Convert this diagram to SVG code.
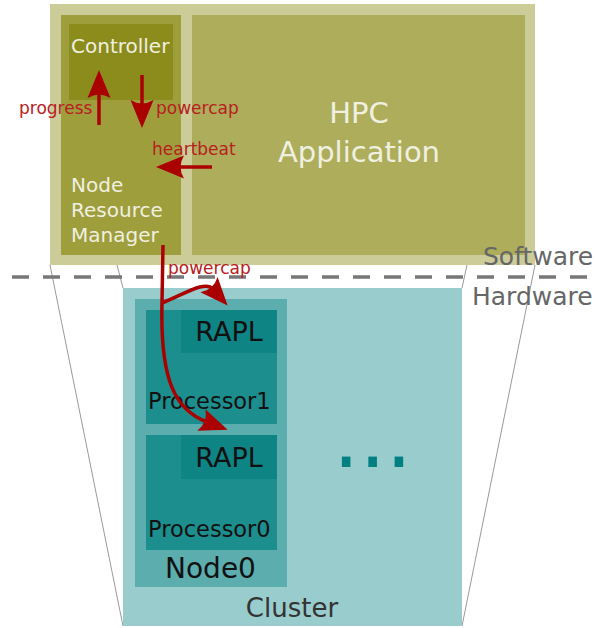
<svg xmlns="http://www.w3.org/2000/svg" width="597" height="628" viewBox="0 0 597 628">
<style>
text{font-family:"DejaVu Sans","Liberation Sans",sans-serif}
.sw{fill:#f0f0e0}
.red{fill:#b82020;font-size:17px}
.hw{fill:#111;font-size:27px}
.arr{fill:none;stroke:#aa0000;stroke-width:3.5}
.persp{stroke:#999;stroke-width:1;fill:none}
</style>
<defs>
<marker id="ah" markerUnits="userSpaceOnUse" markerWidth="30" markerHeight="24" refX="6" refY="12" orient="auto" overflow="visible">
<path d="M28,12 L0,0.5 Q7,12 0,23.5 Z" fill="#aa0000"/>
</marker>
</defs>
<rect width="597" height="628" fill="#fff"/>
<g id="perspective">
<path class="persp" d="M50,265 L123,626 M117,265 L123,288 M535,265 L462,626 M467,265 L462,288"/>
</g>
<g id="software">
<rect x="50" y="4" width="485" height="261" fill="#cccc99"/>
</g>
<g id="nrm">
<rect x="61" y="15" width="120" height="240" fill="#9e9e3d"/>
<text class="sw" font-size="20"><tspan x="71" y="192">Node</tspan><tspan x="71" y="217">Resource</tspan><tspan x="71" y="242">Manager</tspan></text>
</g>
<g id="controller">
<rect x="69" y="24" width="104" height="76" fill="#8c8c1c"/>
<text class="sw" x="71" y="53" font-size="20">Controller</text>
</g>
<g id="hpc">
<rect x="192" y="15" width="333" height="240" fill="#adad5c"/>
<text class="sw" font-size="29" text-anchor="middle"><tspan x="359" y="123">HPC</tspan><tspan x="359" y="162">Application</tspan></text>
</g>
<g id="divider">
<line x1="12" y1="277" x2="597" y2="277" stroke="#777" stroke-width="3.5" stroke-dasharray="17,14"/>
<text x="483" y="265" font-size="25" fill="#666">Software</text>
<text x="472" y="305" font-size="25" fill="#666">Hardware</text>
</g>
<g id="cluster">
<rect x="123" y="288" width="339" height="338" fill="#99cccc"/>
<text x="292" y="617" font-size="26" fill="#333" text-anchor="middle">Cluster</text>
<text x="333" y="467" font-size="83" fill="#008080">...</text>
</g>
<g id="node0">
<rect x="135" y="299" width="152" height="288" fill="#5cadad"/>
<text x="210.5" y="578" font-size="28" fill="#111" text-anchor="middle">Node0</text>
</g>
<g id="processor1">
<rect x="146" y="310" width="131" height="114" fill="#1c8e8e"/>
<text x="148" y="409" font-size="22.5" fill="#111">Processor1</text>
</g>
<g id="rapl1">
<rect x="181" y="310" width="96" height="43" fill="#0e8484"/>
<text class="hw" x="229" y="341" text-anchor="middle">RAPL</text>
</g>
<g id="processor0">
<rect x="146" y="435" width="131" height="115" fill="#1c8e8e"/>
<text x="148" y="537" font-size="22.5" fill="#111">Processor0</text>
</g>
<g id="rapl0">
<rect x="181" y="435" width="96" height="44" fill="#0e8484"/>
<text class="hw" x="229" y="467" text-anchor="middle">RAPL</text>
</g>
<g id="connectors">
<path class="arr" d="M99,125 L99,92" marker-end="url(#ah)"/>
<path class="arr" d="M142,75 L142,106" marker-end="url(#ah)"/>
<path class="arr" d="M212,167 L178,167" marker-end="url(#ah)"/>
<path class="arr" d="M163,245 L162,303 C160,380 175,410 207,422" marker-end="url(#ah)"/>
<path class="arr" d="M162,303 C185,294 205,280 213,289" marker-end="url(#ah)"/>
<text class="red" x="19" y="114">progress</text>
<text class="red" x="156" y="114">powercap</text>
<text class="red" x="152" y="155">heartbeat</text>
<text class="red" x="168" y="274">powercap</text>
</g>
</svg>
